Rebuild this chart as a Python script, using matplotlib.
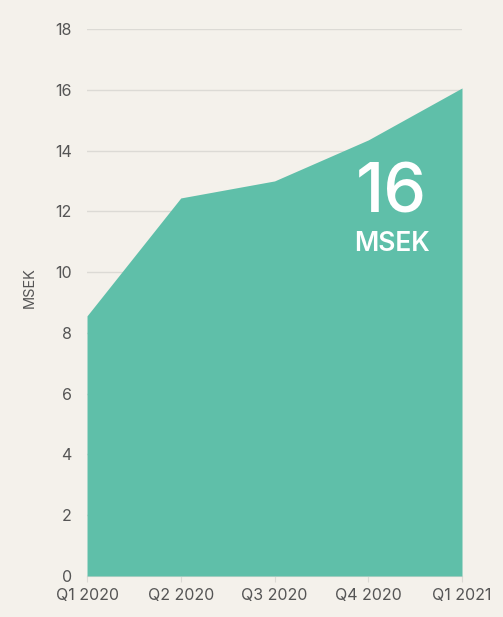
import matplotlib
matplotlib.use("Agg")
import matplotlib.pyplot as plt

categories = ["Q1 2020", "Q2 2020", "Q3 2020", "Q4 2020", "Q1 2021"]
values = [8.56, 12.44, 13.0, 14.35, 16.06]
yticks = [0, 2, 4, 6, 8, 10, 12, 14, 16, 18]

plt.rcParams['font.family'] = ['Inter', 'DejaVu Sans']
bg = "#f4f1eb"
fig = plt.figure(figsize=(5.03, 6.17), dpi=100, facecolor=bg)
ax = fig.add_axes([0.173, 0.0665, 0.7455, 0.8865], facecolor=bg)

x = list(range(len(categories)))
ax.fill_between(x, 0, values, color="#5fbfa9", linewidth=0, zorder=3)
ax.set_xlim(0, len(categories) - 1)
ax.set_ylim(0, 18)
ax.set_yticks(yticks)
ax.set_xticks(x)
ax.set_xticklabels(categories)
ax.grid(axis="y", color="#dcdad5", linewidth=1, zorder=1)
for s in ["top", "right", "left"]:
    ax.spines[s].set_visible(False)
ax.spines["bottom"].set_color("#dcdad5")
ax.tick_params(axis="y", length=0, pad=11, labelsize=11.5, labelcolor="#555555")
ax.tick_params(axis="x", length=4, color="#dcdad5", pad=5, labelsize=11.5, labelcolor="#555555")
fig.text(30 / 503, 1 - 288 / 617, "MSEK", rotation=90, fontsize=10.5, color="#555555",
         ha="center", va="center")

ax.text(3.25, 12.55, "16", color="white", fontsize=49, fontweight="medium",
        ha="center", va="center", zorder=4)
ax.text(3.25, 10.92, "MSEK", color="white", fontsize=19, fontweight="semibold",
        ha="center", va="center", zorder=4)

fig.savefig("out.png", dpi=100, facecolor=bg)
